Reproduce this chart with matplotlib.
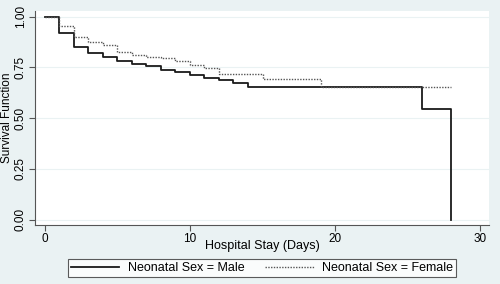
import matplotlib
matplotlib.use("Agg")
import matplotlib.pyplot as plt

plt.rcParams["font.family"] = ["Liberation Sans", "DejaVu Sans"]

# Kaplan-Meier steps
male_days = [0, 1, 2, 3, 4, 5, 6, 7, 8, 9, 10, 11, 12, 13, 14, 26, 28, 28]
male_surv = [1.0, 0.918, 0.851, 0.820, 0.800, 0.783, 0.767, 0.756, 0.737,
             0.729, 0.711, 0.700, 0.688, 0.672, 0.652, 0.547, 0.0, 0.0]

female_days = [0, 1, 2, 3, 4, 5, 6, 7, 8, 9, 10, 11, 12, 15, 19, 28]
female_surv = [1.0, 0.954, 0.900, 0.877, 0.861, 0.825, 0.811, 0.803, 0.798,
               0.782, 0.762, 0.746, 0.718, 0.692, 0.655, 0.655]

x_ticks = [0, 10, 20, 30]
y_ticks = [0.0, 0.25, 0.50, 0.75, 1.0]
y_labels = ["0.00", "0.25", "0.50", "0.75", "1.00"]

bg = "#eaf2f3"
fig = plt.figure(figsize=(5, 2.84), dpi=100, facecolor=bg)
ax = fig.add_axes([0.07, 0.208, 0.908, 0.753])
ax.set_facecolor("white")

ax.step(male_days, male_surv, where="post", color="#1a1a1a", lw=1.3,
        label="Neonatal Sex = Male")
ax.step(female_days, female_surv, where="post", color="#555555", lw=1.0,
        linestyle=(0, (1, 1)), label="Neonatal Sex = Female")

ax.set_xlim(-0.67, 30.6)
ax.set_ylim(-0.026, 1.028)
ax.set_xticks(x_ticks)
ax.set_yticks(y_ticks)
ax.set_yticklabels(y_labels, rotation=90, va="center")
ax.tick_params(labelsize=8.5, length=4, width=0.8, color="#555555", pad=2)
ax.grid(axis="y", color="#eaf2f3", lw=0.8)
ax.set_axisbelow(True)

for side in ["top", "right"]:
    ax.spines[side].set_visible(False)
for side in ["left", "bottom"]:
    ax.spines[side].set_color("#555555")
    ax.spines[side].set_linewidth(0.8)

ax.set_xlabel("Hospital Stay (Days)", fontsize=9, labelpad=-4)
ax.set_ylabel("Survival Function", fontsize=8.5, labelpad=1)

leg = fig.legend(loc="center", bbox_to_anchor=(0.524, 0.056), ncol=2,
                 fontsize=9, frameon=True, fancybox=False, handlelength=3.9,
                 columnspacing=1.6, borderpad=0.25, handletextpad=0.7)
leg.get_frame().set_edgecolor("#333333")
leg.get_frame().set_linewidth(0.8)

fig.savefig("out.png", dpi=100, facecolor=bg)
